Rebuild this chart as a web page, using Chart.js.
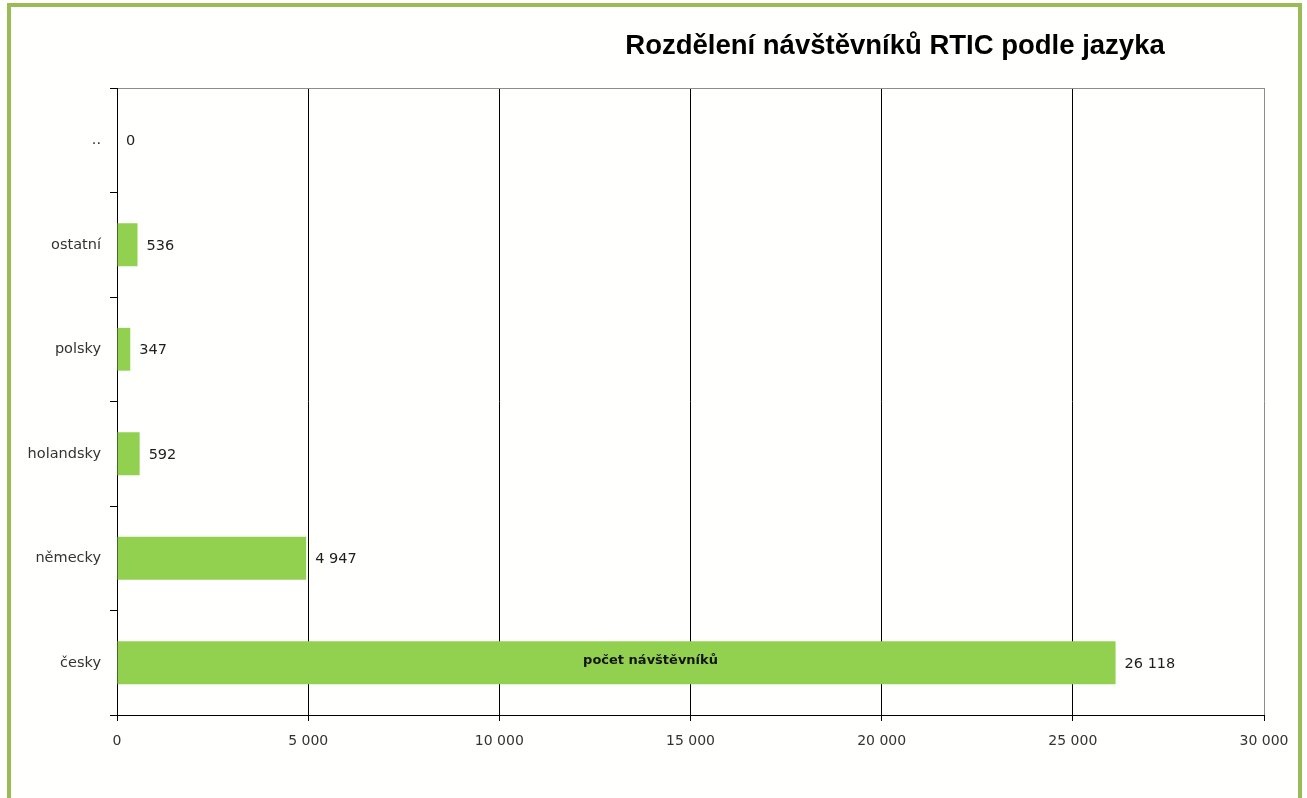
<!DOCTYPE html>
<html lang="cs">
<head>
    <meta charset="UTF-8">
    <title>Rozdělení návštěvníků RTIC podle jazyka</title>
    <script src="https://cdn.jsdelivr.net/npm/chart.js"></script>
    <style>
        body { margin: 0; background: #fff; }
        .wrap { position: relative; width: 1307px; height: 798px; overflow: hidden; background: #fffffd; }
        canvas { position: absolute; left: 0; top: 0; }
        .frame { position: absolute; left: 7px; top: 3px; width: 1287px; height: 800px; border: 4px solid #9bbb59; pointer-events: none; }
    </style>
</head>
<body>
    <div class="wrap">
        <canvas id="chart" width="1307" height="798"></canvas>
        <div class="frame"></div>
    </div>
    <script>
        const chartTitle = 'Rozdělení návštěvníků RTIC podle jazyka';
        const seriesName = 'počet návštěvníků';
        const languages = ['..', 'ostatní', 'polsky', 'holandsky', 'německy', 'česky'];
        const visitors = [0, 536, 347, 592, 4947, 26118];
        const xTicks = [0, 5000, 10000, 15000, 20000, 25000, 30000];

        function fmt(v) {
            return String(v).replace(/\B(?=(\d{3})+(?!\d))/g, ' ');
        }

        const tickFont = { family: 'DejaVu Sans', size: 14 };

        // value labels next to bars + series name inside the biggest bar
        const labelPlugin = {
            id: 'labels',
            afterDatasetsDraw(chart) {
                const ctx = chart.ctx;
                const meta = chart.getDatasetMeta(0);
                ctx.save();
                ctx.fillStyle = '#1e1e1e';
                ctx.font = '14.5px "DejaVu Sans"';
                ctx.textBaseline = 'middle';
                ctx.textAlign = 'left';
                meta.data.forEach((bar, i) => {
                    ctx.fillText(fmt(visitors[i]), bar.x + 9, bar.y + 1);
                });
                const big = meta.data[visitors.indexOf(Math.max(...visitors))];
                ctx.font = 'bold 13px "DejaVu Sans"';
                ctx.textAlign = 'center';
                ctx.fillStyle = '#141414';
                ctx.fillText(seriesName, (big.base + big.x) / 2 + 34, big.y - 2);
                ctx.restore();
            }
        };

        const titlePlugin = {
            id: 'bigTitle',
            afterDraw(chart) {
                const ctx = chart.ctx;
                ctx.save();
                ctx.fillStyle = '#000';
                ctx.font = 'bold 27.5px "Liberation Sans"';
                ctx.textAlign = 'center';
                ctx.textBaseline = 'middle';
                ctx.fillText(chartTitle, 895, 46);
                ctx.restore();
            }
        };

        new Chart(document.getElementById('chart'), {
            type: 'bar',
            data: {
                labels: languages,
                datasets: [{
                    label: seriesName,
                    data: visitors,
                    backgroundColor: '#92d050',
                    borderWidth: 0,
                    barPercentage: 0.41,
                    categoryPercentage: 1
                }]
            },
            options: {
                indexAxis: 'y',
                responsive: false,
                animation: false,
                layout: { padding: { top: 88, right: 43, left: 0, bottom: 0 } },
                plugins: {
                    legend: { display: false },
                    tooltip: { enabled: false }
                },
                scales: {
                    x: {
                        type: 'linear',
                        min: 0,
                        max: 30000,
                        afterBuildTicks(scale) {
                            scale.ticks = xTicks.map(v => ({ value: v }));
                        },
                        afterFit(scale) { scale.height = 83; },
                        ticks: {
                            color: '#333',
                            font: tickFont,
                            padding: 12,
                            maxRotation: 0,
                            callback: v => fmt(v)
                        },
                        grid: {
                            color: ctx => ctx.index === xTicks.length - 1 ? '#8c8c8c' : '#000',
                            tickColor: '#000',
                            tickLength: 6,
                            lineWidth: 1
                        },
                        border: { color: '#000', width: 1 }
                    },
                    x2: {
                        type: 'linear',
                        position: 'top',
                        min: 0,
                        max: 30000,
                        afterFit(scale) { scale.height = 0; },
                        ticks: { display: false },
                        grid: { display: false },
                        border: { color: '#8c8c8c', width: 1 }
                    },
                    y: {
                        afterFit(scale) { scale.width = 117; },
                        ticks: {
                            color: '#333',
                            font: { family: 'DejaVu Sans', size: 14.5 },
                            padding: 9
                        },
                        grid: {
                            offset: true,
                            drawOnChartArea: false,
                            color: '#000',
                            tickLength: 7
                        },
                        border: { color: '#000', width: 1 }
                    }
                }
            },
            plugins: [labelPlugin, titlePlugin]
        });
    </script>
</body>
</html>
